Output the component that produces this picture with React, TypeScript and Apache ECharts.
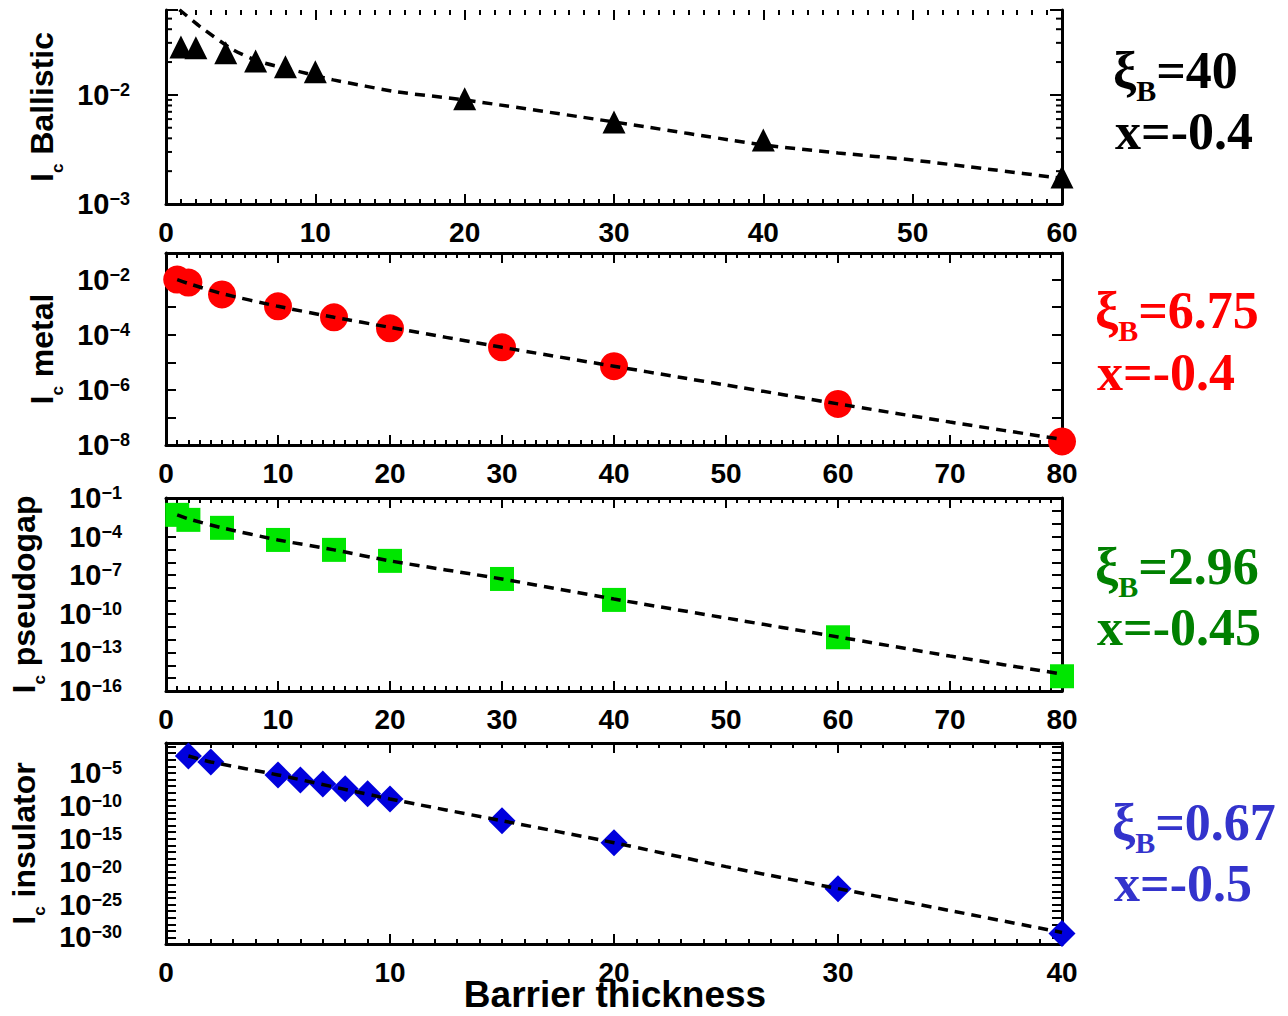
import React, { useEffect, useRef } from 'react';
import * as echarts from 'echarts';

// ---------- DATA ----------
// Panel 1: ballistic
const ballisticX = [1, 2, 4, 6, 8, 10, 20, 30, 40, 60];
const ballisticIc = [0.0275, 0.027, 0.0243, 0.0205, 0.0181, 0.0163, 0.0092, 0.00565, 0.00386, 0.00177];
const ballisticFitX = [0.9, 2.3, 4.5, 6.3, 9, 11.2, 15.5, 20, 30, 40, 45, 50, 55, 60];
const ballisticFitIc = [0.0603, 0.0421, 0.0259, 0.0201, 0.01626, 0.01373, 0.01065, 0.009, 0.00565, 0.00348, 0.00294, 0.00253, 0.00209, 0.00172];
const ballisticMinorTicks = [0.002, 0.003, 0.004, 0.005, 0.006, 0.007, 0.008, 0.009, 0.02, 0.03, 0.04, 0.05];

// Panel 2: metal
const metalX = [1, 2, 5, 10, 15, 20, 30, 40, 60, 80];
const metalIc = [1.0e-2, 7.8e-3, 2.9e-3, 1.07e-3, 4.3e-4, 1.7e-4, 3.5e-5, 7.2e-6, 3.1e-7, 1.35e-8];
const metalFitX = [1, 2, 5, 10, 15, 20, 30, 40, 46, 50, 60, 70, 80];
const metalFitIc = [1.0e-2, 7.2e-3, 3.1e-3, 1.07e-3, 4.3e-4, 1.85e-4, 3.5e-5, 7.2e-6, 2.8e-6, 1.5e-6, 3.1e-7, 6.8e-8, 1.6e-8];

// Panel 3: pseudogap
const pseudogapX = [1, 2, 5, 10, 15, 20, 30, 40, 60, 80];
const pseudogapIc = [4.9e-3, 2.0e-3, 4.8e-4, 5.5e-5, 9.3e-6, 1.3e-6, 5.1e-8, 1.2e-9, 1.5e-12, 1.4e-15];
const pseudogapFitX = [1, 2, 5, 10, 15, 20, 30, 40, 50, 60, 70, 80];
const pseudogapFitIc = [4.9e-3, 2.4e-3, 4.8e-4, 5.5e-5, 9.3e-6, 1.3e-6, 5.1e-8, 1.4e-9, 4.7e-11, 1.6e-12, 5.2e-14, 2.1e-15];

// Panel 4: insulator
const insulatorX = [1, 2, 5, 6, 7, 8, 9, 10, 15, 20, 30, 40];
const insulatorIc = [3.8e-3, 4.7e-4, 5e-6, 8.7e-7, 2.1e-7, 3.8e-8, 6.6e-9, 1.1e-9, 5.4e-13, 2.5e-16, 2.5e-23, 4e-30];
const insulatorFitX = [1, 2, 5, 10, 15, 20, 25, 30, 35, 40];
const insulatorFitIc = [3.8e-3, 4.7e-4, 5e-6, 1.1e-9, 5.4e-13, 2.5e-16, 5.7e-20, 2.6e-23, 1.2e-26, 5.7e-30];

// Tick labels
const ballisticXTicks = [0, 10, 20, 30, 40, 50, 60];
const metalXTicks = [0, 10, 20, 30, 40, 50, 60, 70, 80];
const pseudogapXTicks = [0, 10, 20, 30, 40, 50, 60, 70, 80];
const insulatorXTicks = [0, 10, 20, 30, 40];
const ballisticYExps = [-3, -2];
const metalYExps = [-8, -6, -4, -2];
const pseudogapYExps = [-16, -13, -10, -7, -4, -1];
const insulatorYExps = [-30, -25, -20, -15, -10, -5];

// Texts
const panelNames = ['Ballistic', 'metal', 'pseudogap', 'insulator'];
const xiB = ['40', '6.75', '2.96', '0.67'];
const xExp = ['-0.4', '-0.4', '-0.45', '-0.5'];
const xTitle = 'Barrier thickness';

// ---------- LAYOUT / STYLE ----------
const SANS = '"Liberation Sans", Arial, Helvetica, sans-serif';
const SERIF = '"Liberation Serif", "Times New Roman", serif';

const panels = [
  {
    xs: ballisticX, ys: ballisticIc, fx: ballisticFitX, fy: ballisticFitIc, xTicks: ballisticXTicks, yExps: ballisticYExps,
    top: 10, height: 194, yMin: -3, yMax: Math.log10(0.06), labelMargin: 36, nameGap: 93, topLine: false, yTickLen: 12,
    symbol: 'triangle', symbolSize: 23, markerColor: '#000000', textColor: '#000000', textX: 1113, base1: 88, base2: 149,
  },
  {
    xs: metalX, ys: metalIc, fx: metalFitX, fy: metalFitIc, xTicks: metalXTicks, yExps: metalYExps,
    top: 253, height: 192, yMin: -8, yMax: -1.036, labelMargin: 36, nameGap: 93, topLine: true, yTickLen: 10,
    symbol: 'circle', symbolSize: 28, markerColor: '#ff0000', textColor: '#ff0000', textX: 1095, base1: 328, base2: 390,
  },
  {
    xs: pseudogapX, ys: pseudogapIc, fx: pseudogapFitX, fy: pseudogapFitIc, xTicks: pseudogapXTicks, yExps: pseudogapYExps,
    top: 498, height: 193, yMin: -16, yMax: -1, labelMargin: 44, nameGap: 110, topLine: true, yTickLen: 10,
    symbol: 'rect', symbolSize: 24, markerColor: '#00e600', textColor: '#008000', textX: 1095, base1: 584, base2: 645,
  },
  {
    xs: insulatorX, ys: insulatorIc, fx: insulatorFitX, fy: insulatorFitIc, xTicks: insulatorXTicks, yExps: insulatorYExps,
    top: 743, height: 201, yMin: -31, yMax: -0.45, labelMargin: 44, nameGap: 110, topLine: true, yTickLen: 10,
    symbol: 'diamond', symbolSize: 27, markerColor: '#0000dd', textColor: '#3333cc', textX: 1112, base1: 840, base2: 901,
  },
];

const GRID_LEFT = 166;
const GRID_WIDTH = 896;

function buildOption() {
  const lineStyle = { color: '#000', width: 3 };
  const tickStyle = { color: '#000', width: 2 };
  const xAxis: any[] = [];
  const yAxis: any[] = [];
  const series: any[] = [];
  const graphic: any[] = [];

  panels.forEach((p, i) => {
    const xt = p.xTicks;
    const xBase = {
      type: 'value', gridIndex: i, min: xt[0], max: xt[xt.length - 1], interval: xt[1] - xt[0],
      splitLine: { show: false },
      axisTick: { show: true, inside: true, length: 10, lineStyle: tickStyle },
      minorTick: { show: true, splitNumber: 10, length: 5, lineStyle: tickStyle },
    };
    xAxis.push({
      ...xBase, position: 'bottom',
      axisLine: { show: true, onZero: false, lineStyle },
      axisLabel: {
        show: true, margin: 14, color: '#000', fontFamily: SANS, fontWeight: 'bold', fontSize: 28, lineHeight: 28,
        showMinLabel: true, showMaxLabel: true,
      },
    });
    xAxis.push({
      ...xBase, position: 'top',
      axisLine: { show: p.topLine, onZero: false, lineStyle },
      axisLabel: { show: false },
    });

    const exps = p.yExps;
    const yBase = {
      type: 'value', gridIndex: i, min: p.yMin, max: p.yMax, interval: 1,
      splitLine: { show: false },
      axisLine: { show: true, onZero: false, lineStyle },
      axisTick: { show: true, inside: true, length: p.yTickLen, lineStyle: tickStyle },
    };
    yAxis.push({
      ...yBase, position: 'left',
      name: `{a|I}{c|c}{a| ${panelNames[i]}}`,
      nameLocation: 'middle',
      nameGap: p.nameGap,
      nameTextStyle: {
        rich: {
          a: { fontFamily: SANS, fontWeight: 'bold', fontSize: 32, lineHeight: 32, verticalAlign: 'top', color: '#000' },
          c: { fontFamily: SANS, fontWeight: 'bold', fontSize: 17, lineHeight: 17, padding: [23, 0, 0, 0], verticalAlign: 'top', color: '#000' },
        },
      },
      axisLabel: {
        show: true, margin: p.labelMargin,
        formatter: (v: number) => {
          const r = Math.round(v);
          if (Math.abs(v - r) > 1e-6 || exps.indexOf(r) < 0) return '';
          return `{b|10}{s|\u2212${-r}}`;
        },
        rich: {
          b: { fontFamily: SANS, fontWeight: 'bold', fontSize: 29, lineHeight: 28, color: '#000' },
          s: { fontFamily: SANS, fontWeight: 'bold', fontSize: 18, lineHeight: 5, verticalAlign: 'top', color: '#000' },
        },
      },
    });
    yAxis.push({ ...yBase, position: 'right', axisLabel: { show: false } });

    series.push({
      type: 'scatter', xAxisIndex: 2 * i, yAxisIndex: 2 * i,
      data: p.xs.map((x, k) => [x, Math.log10(p.ys[k])]),
      symbol: p.symbol, symbolSize: p.symbolSize,
      itemStyle: { color: p.markerColor, opacity: 1 },
      z: 2, silent: true,
    });
    series.push({
      type: 'line', xAxisIndex: 2 * i, yAxisIndex: 2 * i,
      data: p.fx.map((x, k) => [x, Math.log10(p.fy[k])]),
      showSymbol: false, symbol: 'none', clip: true, smooth: 0.2,
      lineStyle: { color: '#000', width: 3.5, type: [10, 7] },
      z: 3, silent: true,
    });

    // annotation
    graphic.push({
      type: 'text', x: p.textX, y: p.base1 - 43.6, z: 10,
      style: {
        text: `{m|\u03be}{s|B}{m|=${xiB[i]}}`,
        align: 'left', verticalAlign: 'top',
        rich: {
          m: { fontFamily: SERIF, fontWeight: 'bold', fontSize: 52, lineHeight: 52, verticalAlign: 'top', fill: p.textColor },
          s: { fontFamily: SERIF, fontWeight: 'bold', fontSize: 30, lineHeight: 30, padding: [31, 0, 0, 0], verticalAlign: 'top', fill: p.textColor },
        },
      },
    });
    graphic.push({
      type: 'text', x: p.textX + 2, y: p.base2 - 37.6, z: 10,
      style: {
        text: `x=${xExp[i]}`,
        align: 'left', verticalAlign: 'top',
        font: `bold 52px ${SERIF}`, lineHeight: 40, fill: p.textColor,
      },
    });
  });

  // log minor ticks for the ballistic panel (left and right)
  series.push({
    type: 'custom', xAxisIndex: 0, yAxisIndex: 0, silent: true, z: 4,
    data: ballisticMinorTicks.map((v) => [ballisticXTicks[0], Math.log10(v)]),
    renderItem: (params: any, api: any) => {
      const v = api.value(1);
      const l = api.coord([ballisticXTicks[0], v]);
      const r = api.coord([ballisticXTicks[ballisticXTicks.length - 1], v]);
      return {
        type: 'group',
        children: [
          { type: 'line', shape: { x1: l[0], y1: l[1], x2: l[0] + 6, y2: l[1] }, style: { stroke: '#000', lineWidth: 2 } },
          { type: 'line', shape: { x1: r[0] - 6, y1: r[1], x2: r[0], y2: r[1] }, style: { stroke: '#000', lineWidth: 2 } },
        ],
      };
    },
  });

  graphic.push({
    type: 'text', x: 615, y: 994, z: 10,
    style: {
      text: xTitle, align: 'center', verticalAlign: 'middle',
      font: `bold 37px ${SANS}`, fill: '#000',
    },
  });

  return {
    animation: false,
    backgroundColor: '#ffffff',
    grid: panels.map((p) => ({ left: GRID_LEFT, width: GRID_WIDTH, top: p.top, height: p.height, containLabel: false })),
    xAxis,
    yAxis,
    series,
    graphic,
  };
}

export default function App() {
  const ref = useRef<HTMLDivElement>(null);
  useEffect(() => {
    if (!ref.current) return;
    const chart = echarts.init(ref.current, undefined, { renderer: 'svg' });
    chart.setOption(buildOption() as any);
    return () => chart.dispose();
  }, []);
  return (
    <div
      ref={ref}
      style={{ position: 'fixed', left: 0, top: 0, width: 1288, height: 1016, background: '#fff' }}
    />
  );
}
